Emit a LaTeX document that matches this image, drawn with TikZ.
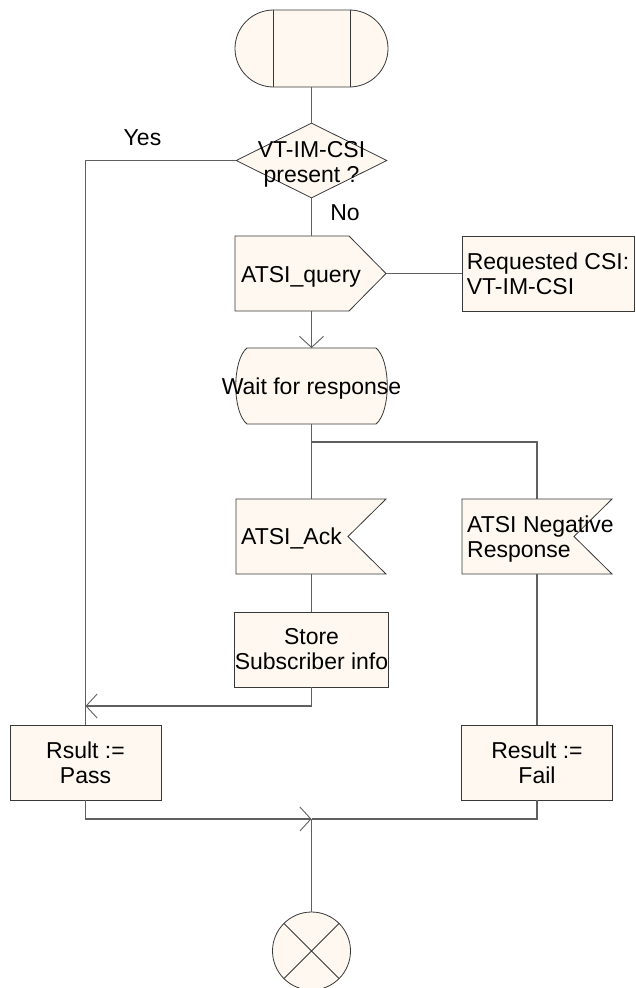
\documentclass[tikz,border=0pt]{standalone}
\usepackage{fontspec}
\setmainfont{Liberation Sans}
\usetikzlibrary{shapes.geometric,arrows.meta}
\definecolor{fillc}{HTML}{FFF8F0}
\definecolor{bordc}{HTML}{383838}
\definecolor{linec}{HTML}{606060}
\begin{document}
\begin{tikzpicture}[x=1pt,y=-1pt,
  shp/.style={draw=bordc,fill=fillc,line width=0.8pt},
  conn/.style={draw=linec,line width=1.1pt},
  arr/.style={-{Straight Barb[length=11pt,width=24pt,line width=0.9pt]}},
  tfont/.style={font=\fontsize{23}{25}\selectfont},
  txt/.style={tfont,inner sep=0pt,align=center},
  txtl/.style={tfont,inner sep=0pt,align=left},
  boxn/.style={shp,rectangle,minimum width=151pt,minimum height=75pt,inner sep=0pt,align=center,tfont}]
\useasboundingbox (0,0) rectangle (635,988);

% start terminator
\node[shp,rectangle,rounded corners=38.5pt,minimum width=153pt,minimum height=77pt,inner sep=0pt] (start) at (311.5,48.5) {};
\draw[bordc,line width=0.8pt] ([xshift=-38.5pt]start.north) -- ([xshift=-38.5pt]start.south)
  ([xshift=38.5pt]start.north) -- ([xshift=38.5pt]start.south);

% decision
\node[shp,diamond,minimum width=151pt,minimum height=75pt,inner sep=0pt] (dec) at (311.5,160.5) {};
\node[txt,anchor=base] (dectxt) at (311.5,182) {VT-IM-CSI\\present ?};
\node[txt,anchor=base] (yes) at (142.5,145) {Yes};
\node[txt,anchor=base] (no) at (345,220) {No};

% output signal ATSI_query
\path[shp] (235,236) -- (349,236) -- (386,273.5) -- (349,311) -- (235,311) -- cycle;
\coordinate (qN) at (311.5,236);
\coordinate (qS) at (311.5,311);
\coordinate (qE) at (386,273.5);
\node[txt,anchor=base west] (qtxt) at (241,282) {ATSI\_query};

% comment box
\node[shp,rectangle,minimum width=172pt,minimum height=75pt,inner sep=0pt,align=left,tfont] (req) at (548,273.5) {Requested CSI:\\VT-IM-CSI};

% wait state
\path[shp] (247,348) -- (376,348) .. controls (391,360) and (391,412) .. (376,424) -- (247,424) .. controls (232,412) and (232,360) .. (247,348) -- cycle;
\coordinate (wN) at (311.5,348);
\coordinate (wS) at (311.5,424);
\coordinate (branch) at (311.5,442);
\node[txt,anchor=base] (wtxt) at (311.5,394) {Wait for response};

% input signal ATSI_Ack
\path[shp] (236,499) -- (386,499) -- (348,536.5) -- (386,574) -- (236,574) -- cycle;
\coordinate (aN) at (311.5,499);
\coordinate (aS) at (311.5,574);
\node[txt,anchor=base west] (acktxt) at (241,544) {ATSI\_Ack};

% input signal negative
\path[shp] (462,499) -- (612,499) -- (574,536.5) -- (612,574) -- (462,574) -- cycle;
\coordinate (nN) at (537,499);
\coordinate (nS) at (537,574);
\node[txtl,anchor=base west] (negtxt) at (467,557) {ATSI Negative\\Response};

% tasks
\node[boxn] (store) at (311.5,649.5) {Store\\Subscriber info};
\node[boxn] (pass) at (85.5,762.5) {Rsult :=\\Pass};
\node[boxn] (fail) at (537,762.5) {Result :=\\Fail};

% end
\node[shp,circle,minimum size=78pt,inner sep=0pt] (stop) at (311.5,951) {};
\draw[bordc,line width=0.8pt] (stop.45) -- (stop.225) (stop.135) -- (stop.315);

\coordinate (ret) at (85.5,706);
\coordinate (merge) at (311.5,819);

% connectors
\draw[conn] (start.south) -- (dec.north);
\draw[conn] (dec.south) -- (qN);
\draw[conn] (dec.west) -| (pass.north);
\draw[conn] (qE) -- (req.west);
\draw[conn,arr] (qS) -- (wN);
\draw[conn] (wS) -- (aN);
\draw[conn] (branch) -| (nN);
\draw[conn] (aS) -- (store.north);
\draw[conn,arr] (store.south) |- (ret);
\draw[conn] (nS) -- (fail.north);
\draw[conn,arr] (pass.south) |- (merge);
\draw[conn] (fail.south) |- (merge);
\draw[conn] (merge) -- (stop.north);
\end{tikzpicture}
\end{document}
